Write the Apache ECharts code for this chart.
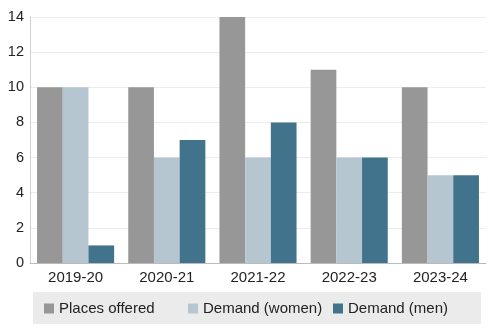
<!DOCTYPE html>
<html><head><meta charset="utf-8">
<script src="https://cdn.jsdelivr.net/npm/echarts@6/dist/echarts.min.js"></script>
<style>html,body{margin:0;padding:0;background:#fff}#c{width:494px;height:334px}</style>
</head><body><div id="c"></div>
<script>
const categories = ['2019-20','2020-21','2021-22','2022-23','2023-24'];
const placesOffered = [10,10,14,11,10];
const demandWomen = [10,6,6,6,5];
const demandMen = [1,7,8,6,5];
const yTicks = [0,2,4,6,8,10,12,14];
const seriesNames = ['Places offered','Demand (women)','Demand (men)'];
const colors = ['#979797','#b5c6d0','#41738d'];

const chart = echarts.init(document.getElementById('c'), null, {renderer:'canvas'});
const font = 'Liberation Sans, Arial, sans-serif';
const legendLefts = [44, 188, 333];
chart.setOption({
  animation:false,
  color: colors,
  grid:{left:30,right:8,top:17,bottom:71,containLabel:false},
  graphic:[{type:'rect',left:33,top:292,shape:{width:448,height:32},style:{fill:'#ebebeb'},z:-1}],
  legend: seriesNames.map((n,i)=>({
    data:[n], left:legendLefts[i], top:301, itemWidth:10, itemHeight:10, icon:'rect', itemGap:0,
    padding:0, textStyle:{fontFamily:font,fontSize:15,color:'#222'}
  })),
  xAxis:{type:'category',data:categories,
    axisLine:{lineStyle:{color:'#bbbbbb'}},axisTick:{show:false},
    axisLabel:{fontFamily:font,fontSize:15,color:'#222',margin:7}},
  yAxis:{type:'value',min:yTicks[0],max:yTicks[yTicks.length-1],interval:2,
    axisLine:{show:true,lineStyle:{color:'#d0d0d0'}},
    splitLine:{lineStyle:{color:'#ececec'}},
    axisLabel:{fontFamily:font,fontSize:14.5,color:'#222',margin:6}},
  series:[
    {name:seriesNames[0],type:'bar',data:placesOffered,barWidth:25.7,barGap:'0%'},
    {name:seriesNames[1],type:'bar',data:demandWomen,barWidth:25.7,barGap:'0%'},
    {name:seriesNames[2],type:'bar',data:demandMen,barWidth:25.7,barGap:'0%'}
  ]
});
</script></body></html>
